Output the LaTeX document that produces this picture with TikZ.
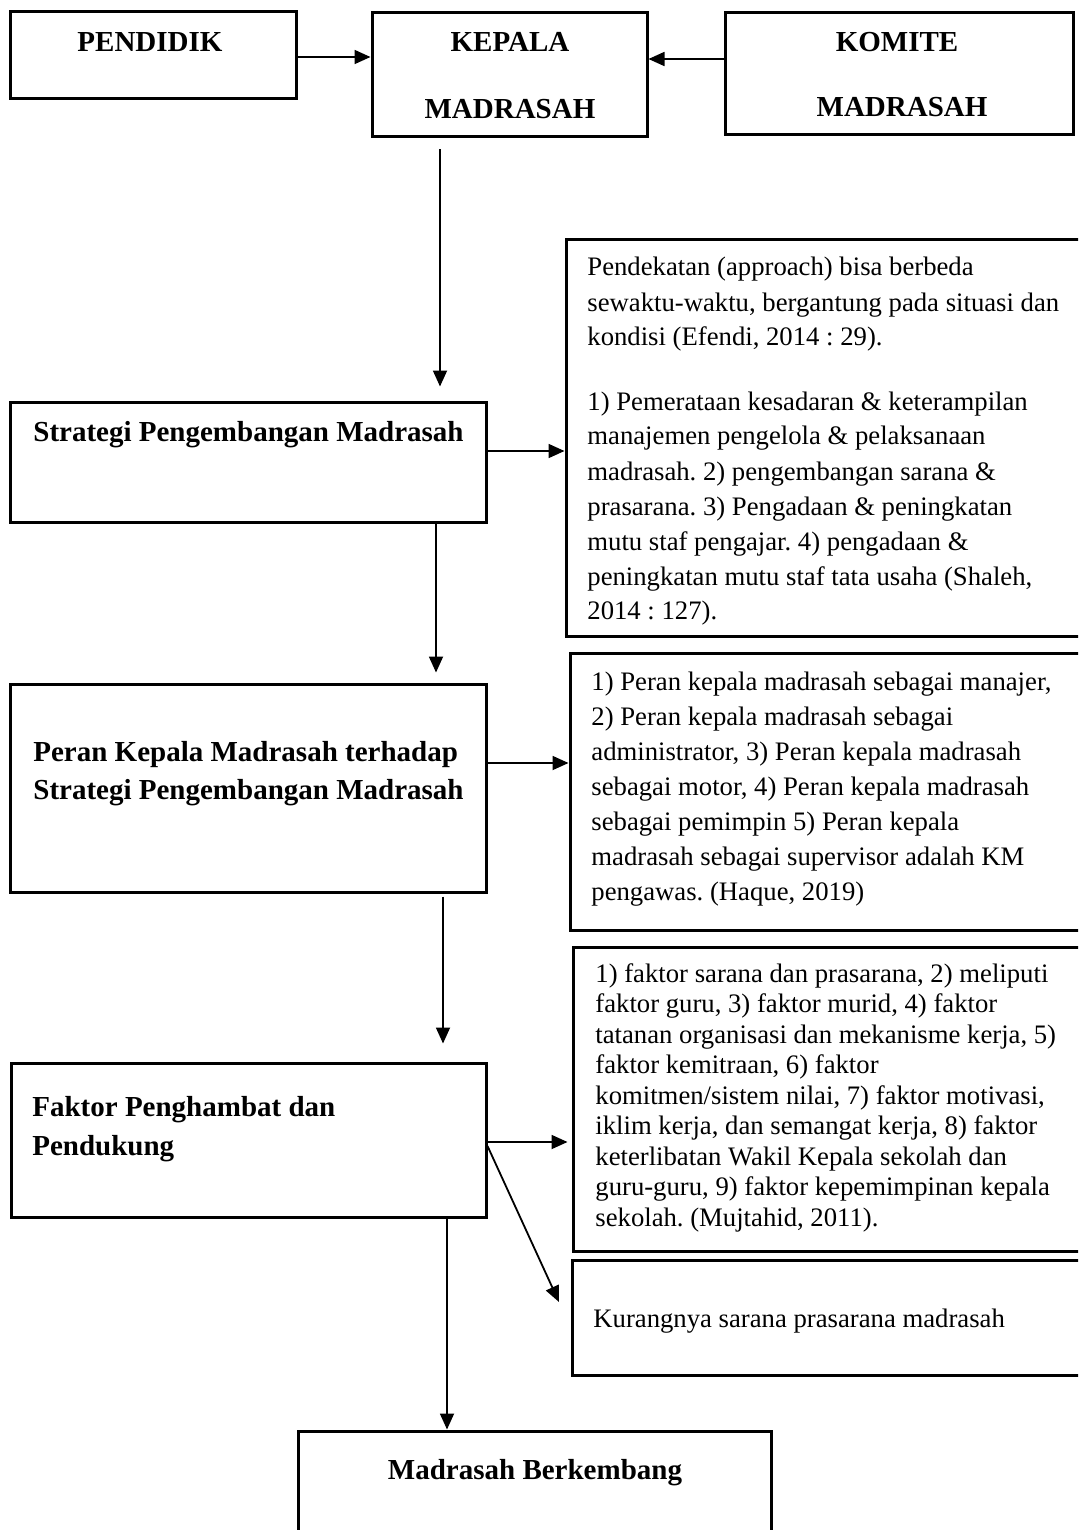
\documentclass[tikz,border=0pt]{standalone}
\usepackage{fontspec}
\setmainfont{Liberation Serif}
\usetikzlibrary{arrows.meta,fit,calc}
\frenchspacing
\newcommand{\headfont}{\fontsize{14.5}{19}\selectfont\bfseries}
\newcommand{\bodyfont}{\fontsize{13.35}{17.5}\selectfont}
\tikzset{
  box/.style={draw, line width=1.5pt, inner sep=0pt, rectangle},
  arr/.style={-{Triangle[length=8pt,width=7pt]}, line width=0.9pt},
  head/.style={font=\headfont, inner sep=0pt, anchor=base},
  txt/.style={inner sep=0pt, anchor=base west},
}
\begin{document}
\begin{tikzpicture}[x=0.5pt,y=-0.5pt]
\useasboundingbox (0,0) rectangle (1078,1530);
\clip (0,0) rectangle (1078,1530);

% boxes
\node[box, fit={(10,12) (296,99)}] (pend) {};
\node[box, fit={(372,13) (647,137)}] (kep) {};
\node[box, fit={(725,13) (1073,135)}] (kom) {};
\node[box, fit={(10,402) (486,522)}] (str) {};
\node[box, fit={(566,240) (1095,636)}] (r1) {};
\node[box, fit={(10,684) (486,892)}] (per) {};
\node[box, fit={(570,653) (1095,930)}] (r2) {};
\node[box, fit={(11,1063) (486,1217)}] (fak) {};
\node[box, fit={(573,947) (1095,1251)}] (r3) {};
\node[box, fit={(572,1260) (1095,1375)}] (r4) {};
\node[box, fit={(298,1431) (771,1580)}] (ber) {};

% headings
\node[head] (tpend) at (150,52) {PENDIDIK};
\node[head] (tkep1) at (510,52) {KEPALA};
\node[head] (tkep2) at (510,119) {MADRASAH};
\node[head] (tkom1) at (897,52) {KOMITE};
\node[head] (tkom2) at (902,117) {MADRASAH};
\node[txt] (tstr) at (33,441) {\headfont Strategi Pengembangan Madrasah};
\node[txt] (tper) at (33,761) {\parbox[t]{300pt}{\headfont Peran Kepala Madrasah terhadap\\Strategi Pengembangan Madrasah}};
\node[txt] (tfak) at (32,1116) {\parbox[t]{300pt}{\fontsize{14.5}{19.5}\selectfont\bfseries Faktor Penghambat dan\\Pendukung}};
\node[head] (tber) at (535,1479) {Madrasah Berkembang};

% body texts
\node[txt] (tr1) at (587,276) {\parbox[t]{300pt}{\bodyfont
Pendekatan (approach) bisa berbeda\\
sewaktu-waktu, bergantung pada situasi dan\\
kondisi (Efendi, 2014 : 29).\\[14.5pt]
1) Pemerataan kesadaran \& keterampilan\\
manajemen pengelola \& pelaksanaan\\
madrasah. 2) pengembangan sarana \&\\
prasarana. 3) Pengadaan \& peningkatan\\
mutu staf pengajar. 4) pengadaan \&\\
peningkatan mutu staf tata usaha (Shaleh,\\
2014 : 127).}};

\node[txt] (tr2) at (591,690) {\parbox[t]{300pt}{\bodyfont
1) Peran kepala madrasah sebagai manajer,\\
2) Peran kepala madrasah sebagai\\
administrator, 3) Peran kepala madrasah\\
sebagai motor, 4) Peran kepala madrasah\\
sebagai pemimpin 5) Peran kepala\\
madrasah sebagai supervisor adalah KM\\
pengawas. (Haque, 2019)}};

\node[txt] (tr3) at (595,982) {\parbox[t]{300pt}{\fontsize{13.35}{15.25}\selectfont
1) faktor sarana dan prasarana, 2) meliputi\\
faktor guru, 3) faktor murid, 4) faktor\\
tatanan organisasi dan mekanisme kerja, 5)\\
faktor kemitraan, 6) faktor\\
komitmen/sistem nilai, 7) faktor motivasi,\\
iklim kerja, dan semangat kerja, 8) faktor\\
keterlibatan Wakil Kepala sekolah dan\\
guru-guru, 9) faktor kepemimpinan kepala\\
sekolah. (Mujtahid, 2011).}};

\node[txt] (tr4) at (593,1327) {\bodyfont Kurangnya sarana prasarana madrasah};

% helper coordinates
\coordinate (xa) at (440,0);
\coordinate (xb) at (436,0);
\coordinate (xc) at (443,0);
\coordinate (xd) at (447,0);
\coordinate (ya) at (0,451);
\coordinate (yb) at (0,763);
\coordinate (yc) at (0,1142);
\coordinate (yd) at (0,1146);
\coordinate (ye) at (0,57);
\coordinate (yf) at (0,59);
\coordinate (dg) at (559,1302);

% connectors
\draw[arr] (pend.east |- ye) -- (kep.west |- ye);
\draw[arr] (kom.west |- yf) -- (kep.east |- yf);
\draw[arr, shorten <=5.5pt, shorten >=7pt] (kep.south -| xa) -- (str.north -| xa);
\draw[arr] (str.east |- ya) -- (r1.west |- ya);
\draw[arr, shorten >=5pt] (str.south -| xb) -- (per.north -| xb);
\draw[arr] (per.east |- yb) -- (r2.west |- yb);
\draw[arr, shorten <=1.5pt, shorten >=9pt] (per.south -| xc) -- (fak.north -| xc);
\draw[arr, shorten >=2pt] (fak.east |- yc) -- (r3.west |- yc);
\draw[arr] (fak.east |- yd) -- (dg);
\draw[arr] (fak.south -| xd) -- (ber.north -| xd);
\end{tikzpicture}
\end{document}
